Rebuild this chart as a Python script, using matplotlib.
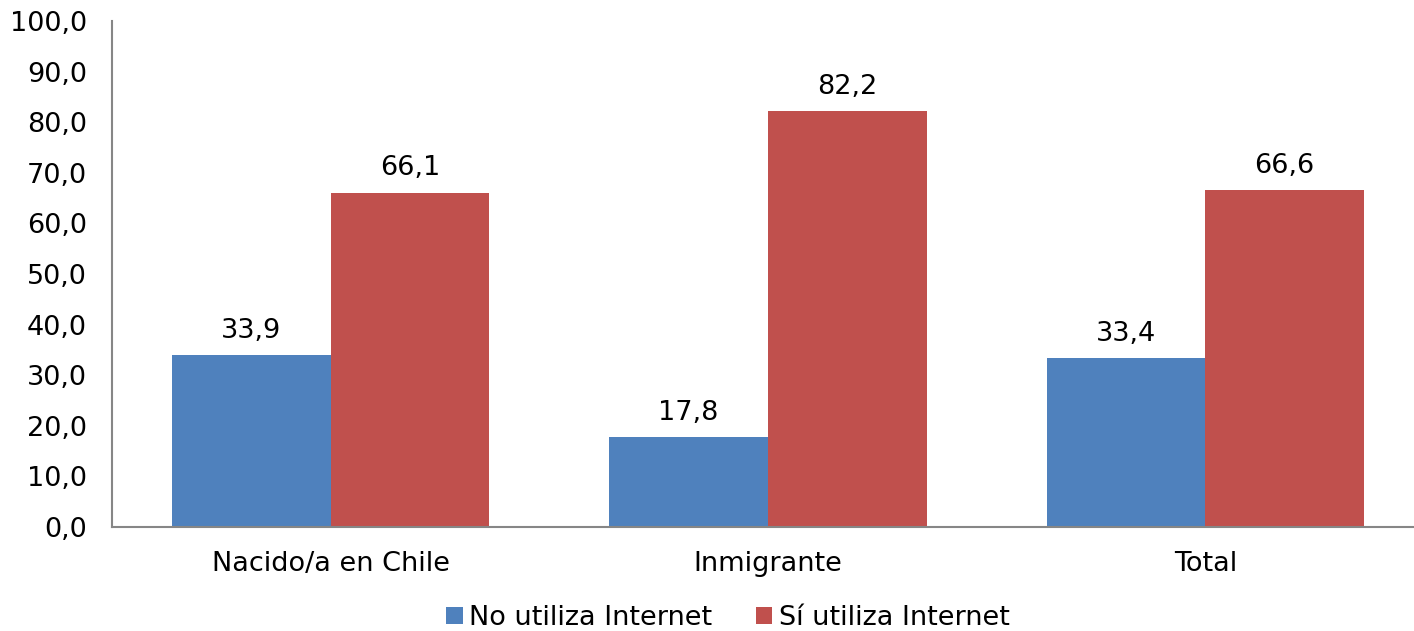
import matplotlib
matplotlib.use("Agg")
import matplotlib.pyplot as plt
import numpy as np

categories = ["Nacido/a en Chile", "Inmigrante", "Total"]
no_utiliza = [33.9, 17.8, 33.4]
si_utiliza = [66.1, 82.2, 66.6]
series_names = ["No utiliza Internet", "Sí utiliza Internet"]
yticks = list(range(0, 101, 10))

plt.rcParams['font.family'] = ['DejaVu Sans']
fs = 19.5

fig = plt.figure(figsize=(14.14, 6.31), dpi=100)
W, H = 1414, 631
ax = fig.add_axes([112 / W, 1 - 527 / H, (W - 112) / W, (527 - 21) / H])

x = np.arange(len(categories))
bw = 0.363
c_blue = "#4F81BD"
c_red = "#C0504D"
b1 = ax.bar(x - bw / 2, no_utiliza, bw, color=c_blue, label=series_names[0])
b2 = ax.bar(x + bw / 2, si_utiliza, bw, color=c_red, label=series_names[1])

for rects, vals in ((b1, no_utiliza), (b2, si_utiliza)):
    for r, v in zip(rects, vals):
        ax.annotate(f"{v:.1f}".replace(".", ","),
                    (r.get_x() + r.get_width() / 2, v),
                    xytext=(0, 8), textcoords="offset points",
                    ha="center", va="bottom", fontsize=fs)

ax.set_ylim(0, 100)
right = 2.5 - (1424 - W) / 438
ax.set_xlim(-0.5, right)
ax.set_yticks(yticks)
ax.set_yticklabels([f"{t:.1f}".replace(".", ",") for t in yticks], fontsize=fs)
ax.set_xticks(x)
ax.set_xticklabels(categories, fontsize=fs)
ax.tick_params(axis="both", length=0)
ax.tick_params(axis="y", pad=18)
ax.tick_params(axis="x", pad=17)
for s in ("top", "right"):
    ax.spines[s].set_visible(False)
for s in ("left", "bottom"):
    ax.spines[s].set_color("#868686")
    ax.spines[s].set_linewidth(1.5)

fig.legend(handles=[b1, b2], labels=series_names, loc="center",
           bbox_to_anchor=(728 / W, 1 - 618 / H), ncol=2, frameon=False,
           fontsize=fs, handlelength=0.6, handleheight=0.6, handletextpad=0.25,
           columnspacing=1.6)

fig.savefig("out.png", dpi=100)
